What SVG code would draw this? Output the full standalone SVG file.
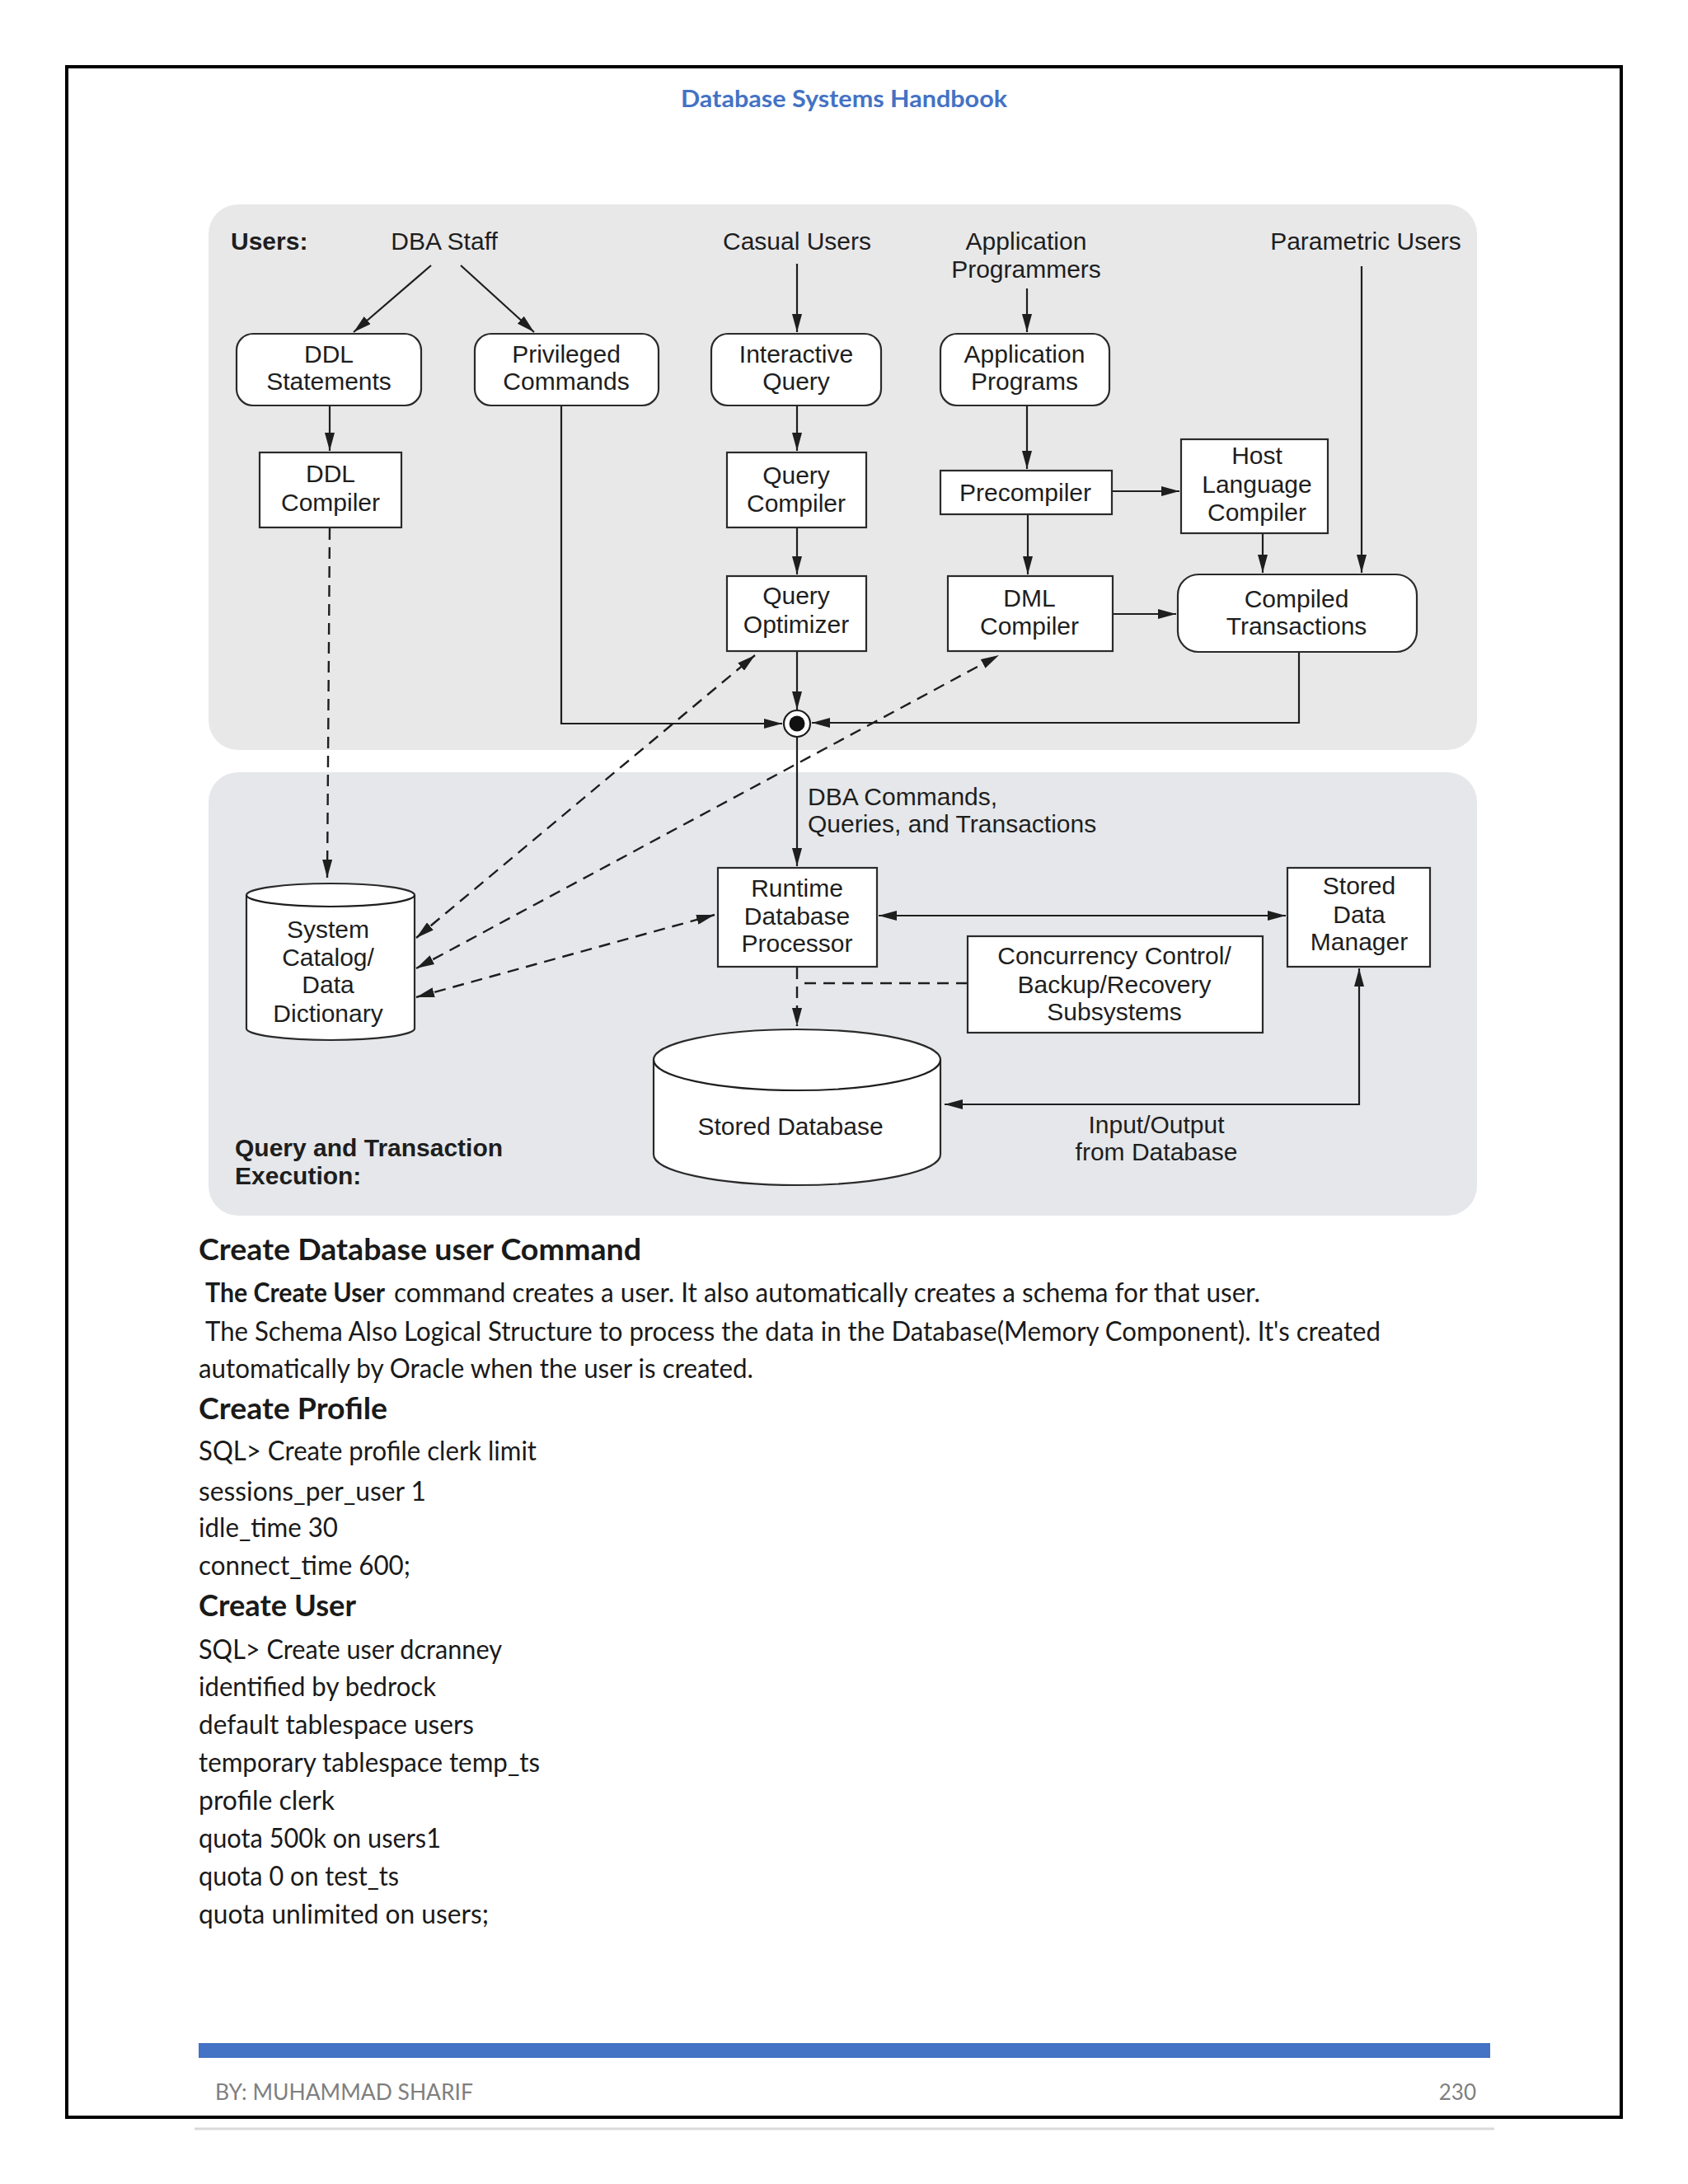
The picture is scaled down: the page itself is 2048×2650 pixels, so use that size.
<svg xmlns="http://www.w3.org/2000/svg" width="2048" height="2650" viewBox="0 0 2048 2650">
<style>
.d{font-family:"Liberation Sans",Arial,sans-serif;font-size:30px;fill:#1e1e1e}
.c{text-anchor:middle}
.b{font-weight:bold}
.box{fill:#fff;stroke:#2a2a2a;stroke-width:2.2}
.ln{fill:none;stroke:#1e1e1e;stroke-width:2.2}
.ds{fill:none;stroke:#1e1e1e;stroke-width:2.4;stroke-dasharray:14 9}
.t{font-family:Lato,"Open Sans",sans-serif;font-size:33px;fill:#1a1a1a}
.h{font-family:Lato,"Open Sans",sans-serif;font-size:36px;font-weight:bold;fill:#1a1a1a}
</style>
<defs>
<marker id="ah" viewBox="0 0 22 12" refX="22" refY="6" markerWidth="22" markerHeight="12" markerUnits="userSpaceOnUse" orient="auto-start-reverse"><path d="M0,0 L22,6 L0,12 z" fill="#1e1e1e"/></marker>
</defs>
<rect width="2048" height="2650" fill="#fff"/>
<rect x="81" y="81" width="1886" height="2488" fill="none" stroke="#000" stroke-width="4"/>
<line x1="236" y1="2583" x2="1813" y2="2583" stroke="#d9d9d9" stroke-width="3"/>
<text x="1024" y="130" text-anchor="middle" font-family="Lato,'Open Sans',sans-serif" font-size="29" font-weight="bold" fill="#4472c4" textLength="396" lengthAdjust="spacingAndGlyphs">Database  Systems Handbook</text>

<g id="panels">
<rect x="253" y="248" width="1539" height="662" rx="36" fill="#e8e8e9"/>
<rect x="253" y="937" width="1539" height="538" rx="36" fill="#e5e7ea"/>
</g>

<g id="labels" class="d">
<text x="280" y="303" class="b">Users:</text>
<text x="539" y="303" class="c">DBA Staff</text>
<text x="967" y="303" class="c">Casual Users</text>
<text x="1245" y="303" class="c">Application</text>
<text x="1245" y="337" class="c">Programmers</text>
<text x="1657" y="303" class="c">Parametric Users</text>
<text x="980" y="977">DBA Commands,</text>
<text x="980" y="1010">Queries, and Transactions</text>
<text x="1403" y="1375" class="c">Input/Output</text>
<text x="1403" y="1408" class="c">from Database</text>
<text x="285" y="1403" class="b">Query and Transaction</text>
<text x="285" y="1437" class="b">Execution:</text>
</g>

<g id="connectors">
<line class="ln" x1="523" y1="322" x2="429" y2="403" marker-end="url(#ah)"/>
<line class="ln" x1="559" y1="322" x2="648" y2="403" marker-end="url(#ah)"/>
<line class="ln" x1="967" y1="320" x2="967" y2="403" marker-end="url(#ah)"/>
<line class="ln" x1="1246" y1="350" x2="1246" y2="403" marker-end="url(#ah)"/>
<line class="ln" x1="400" y1="492" x2="400" y2="547" marker-end="url(#ah)"/>
<line class="ln" x1="967" y1="492" x2="967" y2="547" marker-end="url(#ah)"/>
<line class="ln" x1="967" y1="640" x2="967" y2="697" marker-end="url(#ah)"/>
<line class="ln" x1="967" y1="790" x2="967" y2="861" marker-end="url(#ah)"/>
<line class="ln" x1="1246" y1="492" x2="1246" y2="569" marker-end="url(#ah)"/>
<line class="ln" x1="1349" y1="596" x2="1431" y2="596" marker-end="url(#ah)"/>
<line class="ln" x1="1247" y1="624" x2="1247" y2="697" marker-end="url(#ah)"/>
<line class="ln" x1="1350" y1="745" x2="1427" y2="745" marker-end="url(#ah)"/>
<line class="ln" x1="1532" y1="647" x2="1532" y2="695" marker-end="url(#ah)"/>
<line class="ln" x1="1652" y1="323" x2="1652" y2="695" marker-end="url(#ah)"/>
<path class="ln" d="M681,492 V878 H949" marker-end="url(#ah)"/>
<path class="ln" d="M1576,791 V877 H985" marker-end="url(#ah)"/>
<line class="ln" x1="967" y1="894" x2="967" y2="1051" marker-end="url(#ah)"/>
<line class="ln" x1="1066" y1="1111" x2="1560" y2="1111" marker-start="url(#ah)" marker-end="url(#ah)"/>
<path class="ln" d="M1146,1340 H1649 V1175" marker-start="url(#ah)" marker-end="url(#ah)"/>
<line class="ds" x1="400" y1="641" x2="397" y2="1065" marker-end="url(#ah)"/>
<line class="ds" x1="505" y1="1138" x2="916" y2="795" marker-start="url(#ah)" marker-end="url(#ah)"/>
<line class="ds" x1="505" y1="1175" x2="1212" y2="795" marker-start="url(#ah)" marker-end="url(#ah)"/>
<line class="ds" x1="505" y1="1210" x2="867" y2="1110" marker-start="url(#ah)" marker-end="url(#ah)"/>
<path class="ds" d="M1174,1193 H967"/>
<line class="ds" x1="967" y1="1174" x2="967" y2="1245" marker-end="url(#ah)"/>
</g>

<g id="junction">
<circle cx="967" cy="878" r="16" fill="#fff" stroke="#1e1e1e" stroke-width="2.2"/>
<circle cx="967" cy="878" r="9.5" fill="#111"/>
</g>

<g id="ddl-statements" class="d c"><rect class="box" x="287" y="405" width="224" height="87" rx="20"/><text x="399" y="440">DDL</text><text x="399" y="473">Statements</text></g>
<g id="privileged-commands" class="d c"><rect class="box" x="576" y="405" width="223" height="87" rx="20"/><text x="687" y="440">Privileged</text><text x="687" y="473">Commands</text></g>
<g id="interactive-query" class="d c"><rect class="box" x="863" y="405" width="206" height="87" rx="20"/><text x="966" y="440">Interactive</text><text x="966" y="473">Query</text></g>
<g id="application-programs" class="d c"><rect class="box" x="1141" y="405" width="205" height="87" rx="20"/><text x="1243" y="440">Application</text><text x="1243" y="473">Programs</text></g>
<g id="ddl-compiler" class="d c"><rect class="box" x="315" y="549" width="172" height="91"/><text x="401" y="585">DDL</text><text x="401" y="620">Compiler</text></g>
<g id="query-compiler" class="d c"><rect class="box" x="882" y="549" width="169" height="91"/><text x="966" y="587">Query</text><text x="966" y="621">Compiler</text></g>
<g id="precompiler" class="d c"><rect class="box" x="1141" y="571" width="208" height="53"/><text x="1244" y="608">Precompiler</text></g>
<g id="host-language-compiler" class="d c"><rect class="box" x="1433" y="533" width="178" height="114"/><text x="1525" y="563">Host</text><text x="1525" y="598">Language</text><text x="1525" y="632">Compiler</text></g>
<g id="query-optimizer" class="d c"><rect class="box" x="882" y="699" width="169" height="91"/><text x="966" y="733">Query</text><text x="966" y="768">Optimizer</text></g>
<g id="dml-compiler" class="d c"><rect class="box" x="1150" y="699" width="200" height="91"/><text x="1249" y="736">DML</text><text x="1249" y="770">Compiler</text></g>
<g id="compiled-transactions" class="d c"><rect class="box" x="1429" y="697" width="290" height="94" rx="25"/><text x="1573" y="737">Compiled</text><text x="1573" y="770">Transactions</text></g>
<g id="runtime-db-processor" class="d c"><rect class="box" x="871" y="1053" width="193" height="120"/><text x="967" y="1088">Runtime</text><text x="967" y="1122">Database</text><text x="967" y="1155">Processor</text></g>
<g id="stored-data-manager" class="d c"><rect class="box" x="1562" y="1053" width="173" height="120"/><text x="1649" y="1085">Stored</text><text x="1649" y="1120">Data</text><text x="1649" y="1153">Manager</text></g>
<g id="concurrency-control" class="d c"><rect class="box" x="1174" y="1136" width="358" height="117"/><text x="1352" y="1170">Concurrency Control/</text><text x="1352" y="1205">Backup/Recovery</text><text x="1352" y="1238">Subsystems</text></g>
<g id="system-catalog" class="d c"><path class="box" d="M299,1086 A102,14 0 0 1 503,1086 V1248 A102,14 0 0 1 299,1248 Z"/><path class="ln" d="M299,1086 A102,14 0 0 0 503,1086"/><text x="398" y="1138">System</text><text x="398" y="1172">Catalog/</text><text x="398" y="1205">Data</text><text x="398" y="1240">Dictionary</text></g>
<g id="stored-database" class="d c"><path class="box" d="M793,1286 A174,37 0 0 1 1141,1286 V1401 A174,37 0 0 1 793,1401 Z"/><path class="ln" d="M793,1286 A174,37 0 0 0 1141,1286"/><text x="959" y="1377">Stored Database</text></g>

<g id="body-text">
<text class="h" x="241" y="1529" textLength="537" lengthAdjust="spacingAndGlyphs">Create Database user Command</text>
<text class="t" x="249" y="1580"><tspan font-weight="bold" textLength="218" lengthAdjust="spacingAndGlyphs">The Create User</tspan><tspan x="478" textLength="1051" lengthAdjust="spacingAndGlyphs">command creates a user. It also automatically creates a schema for that user.</tspan></text>
<text class="t" x="249" y="1627" textLength="1426" lengthAdjust="spacingAndGlyphs">The Schema  Also Logical Structure to process the data in the Database(Memory Component).  It's created</text>
<text class="t" x="241" y="1672" textLength="673" lengthAdjust="spacingAndGlyphs">automatically by Oracle when the user is created.</text>
<text class="h" x="241" y="1722" textLength="229" lengthAdjust="spacingAndGlyphs">Create Profile</text>
<text class="t" x="241" y="1772" textLength="410" lengthAdjust="spacingAndGlyphs">SQL&gt; Create profile clerk limit</text>
<text class="t" x="241" y="1821" textLength="276" lengthAdjust="spacingAndGlyphs">sessions_per_user 1</text>
<text class="t" x="241" y="1865" textLength="169" lengthAdjust="spacingAndGlyphs">idle_time 30</text>
<text class="t" x="241" y="1911" textLength="257" lengthAdjust="spacingAndGlyphs">connect_time  600;</text>
<text class="h" x="241" y="1961" textLength="191" lengthAdjust="spacingAndGlyphs">Create User</text>
<text class="t" x="241" y="2013" textLength="368" lengthAdjust="spacingAndGlyphs">SQL&gt; Create user dcranney</text>
<text class="t" x="241" y="2058" textLength="288" lengthAdjust="spacingAndGlyphs">identified by bedrock</text>
<text class="t" x="241" y="2104" textLength="334" lengthAdjust="spacingAndGlyphs">default tablespace users</text>
<text class="t" x="241" y="2150" textLength="414" lengthAdjust="spacingAndGlyphs">temporary  tablespace temp_ts</text>
<text class="t" x="241" y="2196" textLength="165" lengthAdjust="spacingAndGlyphs">profile clerk</text>
<text class="t" x="241" y="2242" textLength="294" lengthAdjust="spacingAndGlyphs">quota 500k on users1</text>
<text class="t" x="241" y="2288" textLength="243" lengthAdjust="spacingAndGlyphs">quota 0 on test_ts</text>
<text class="t" x="241" y="2334" textLength="352" lengthAdjust="spacingAndGlyphs">quota unlimited on users;</text>
</g>

<g id="footer">
<rect x="241" y="2479" width="1567" height="18" fill="#4472c4"/>
<text x="261" y="2548" font-family="Lato,'Open Sans',sans-serif" font-size="26" fill="#7f7f7f" textLength="313" lengthAdjust="spacingAndGlyphs">BY: MUHAMMAD SHARIF</text>
<text x="1791" y="2548" text-anchor="end" font-family="Lato,'Open Sans',sans-serif" font-size="26" fill="#7f7f7f">230</text>
</g>
</svg>
